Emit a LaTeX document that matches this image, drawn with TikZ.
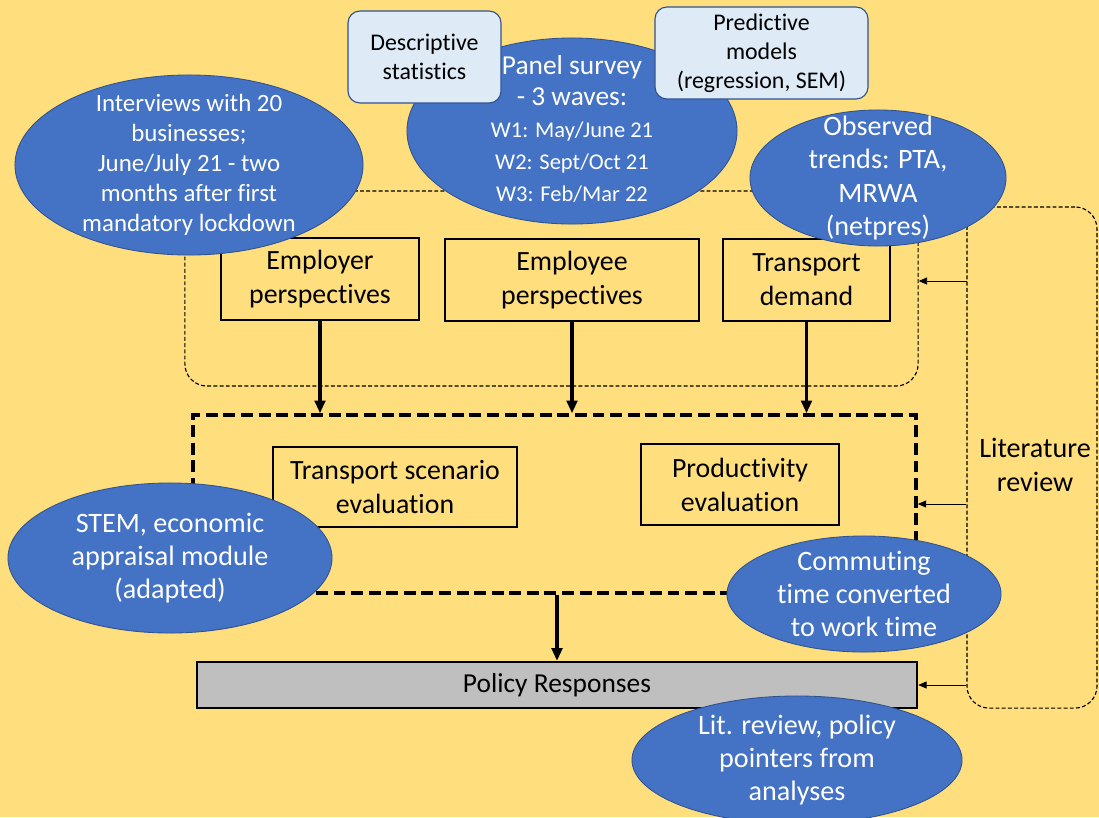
\documentclass[tikz,border=0pt]{standalone}
\usepackage{fontspec}
\setmainfont{Carlito}[Ligatures=NoCommon]
\usetikzlibrary{arrows.meta, shapes.geometric}
\definecolor{bgyellow}{HTML}{FFDE7D}
\definecolor{ovalblue}{HTML}{4472C4}
\definecolor{ovalrim}{HTML}{2F528F}
\definecolor{noteblue}{HTML}{DEEBF7}
\definecolor{policygray}{HTML}{BFBFBF}

\begin{document}
\begin{tikzpicture}[x=0.025cm, y=-0.025cm,
    box/.style={draw, line width=1.6pt, align=center, inner sep=0pt, font=\fontsize{19.8}{24.2}\selectfont},
    oval/.style={ellipse, fill=ovalblue, draw=ovalrim, line width=0.6pt, text=white, align=center,
        inner xsep=-1cm, inner ysep=-1.5cm, font=\fontsize{20}{23.6}\selectfont},
    note/.style={draw=ovalrim, line width=0.8pt, fill=noteblue, rounded corners=0.3cm, align=center,
        font=\fontsize{17}{20.8}\selectfont},
    frame/.style={draw, dash pattern=on 2.8pt off 1.6pt, line width=0.8pt, rounded corners=0.55cm},
    heavyframe/.style={draw, dash pattern=on 8.5pt off 4pt, line width=2.4pt},
    down/.style={line width=2.2pt, -{Triangle[length=9pt, width=7.5pt]}},
    feed/.style={line width=0.6pt, -{Triangle[length=6pt, width=5pt]}}
]
    \fill[bgyellow] (0,0) rectangle (1099,817);
    \useasboundingbox (0,0) rectangle (1099,817);

    \node[frame, minimum width=18.325cm, minimum height=4.875cm] (upper) at (551.5,288.5) {};
    \node[heavyframe, minimum width=18.075cm, minimum height=4.45cm] (inner) at (554.5,504) {};
    \node[frame, minimum width=3.25cm, minimum height=12.525cm] (litbox) at (1032,457.5) {};
    \node[align=center, font=\fontsize{20}{24.2}\selectfont] (littext) at (1035,465) {Literature\\review};

    \node[box, minimum width=4.95cm, minimum height=2.05cm] (employer) at (320,279) {Employer\\perspectives};
    \node[box, minimum width=6.35cm, minimum height=2.05cm] (employee) at (572,280) {Employee\\perspectives};
    \node[box, minimum width=4.175cm, minimum height=2.05cm] (demand) at (806.5,280) {Transport\\demand};
    \node[box, minimum width=6.1cm, minimum height=2cm] (scenario) at (395,487) {Transport scenario\\evaluation};
    \node[box, minimum width=4.95cm, minimum height=2.025cm] (productivity) at (740,484.5) {Productivity\\evaluation};
    \node[box, fill=policygray, minimum width=18cm, minimum height=1.15cm, font=\fontsize{19.5}{21}\selectfont] (policy) at (557,685) {Policy Responses};

    \draw[down] (employer.south) -- (employer.south |- inner.north);
    \draw[down] (employee.south) -- (employee.south |- inner.north);
    \draw[down] (demand.south) -- (demand.south |- inner.north);
    \draw[down] (inner.south -| policy.north) -- (policy.north);

    \coordinate (litin) at (967,281);
    \draw[feed] (litin) -- (litin -| upper.east);
    \draw[feed] (litbox.west |- inner.east) -- (inner.east);
    \draw[feed] (litbox.west |- policy.east) -- (policy.east);

    \node[oval, minimum width=8.7cm, minimum height=4.5cm, font=\fontsize{17.7}{21.3}\selectfont] (interviews) at (189,165)
        {Interviews with 20\\businesses;\\June/July 21 - two\\months after first\\mandatory lockdown};
    \node[oval, minimum width=8.25cm, minimum height=4.65cm] (panel) at (572,131)
        {\begin{tabular}{@{}c@{}}
         \fontsize{19.5}{22.5}\selectfont Panel survey\\[-1pt]
         \fontsize{19.5}{22.5}\selectfont - 3 waves:\\[-1pt]
         \fontsize{16}{21.3}\selectfont W1: May/June 21\\[-1pt]
         \fontsize{16}{21.3}\selectfont W2: Sept/Oct 21\\[-1pt]
         \fontsize{16}{21.3}\selectfont W3: Feb/Mar 22
         \end{tabular}};
    \node[oval, minimum width=6.4cm, minimum height=3.4cm] (trends) at (878,178) {Observed\\trends: PTA,\\MRWA\\(netpres)};
    \node[oval, minimum width=8.1cm, minimum height=3.75cm] (stem) at (170,558) {STEM, economic\\appraisal module\\(adapted)};
    \node[oval, minimum width=6.85cm, minimum height=2.9cm] (commuting) at (864,594) {Commuting\\time converted\\to work time};
    \node[oval, minimum width=8.25cm, minimum height=3.2cm] (pointers) at (797,760) {Lit. review, policy\\pointers from\\analyses};

    \node[note, minimum width=3.825cm, minimum height=2.3cm] (descr) at (424.5,57) {Descriptive\\statistics};
    \node[note, minimum width=5.325cm, minimum height=2.3cm] (predict) at (761.5,53) {Predictive\\models\\(regression, SEM)};
\end{tikzpicture}
\end{document}
